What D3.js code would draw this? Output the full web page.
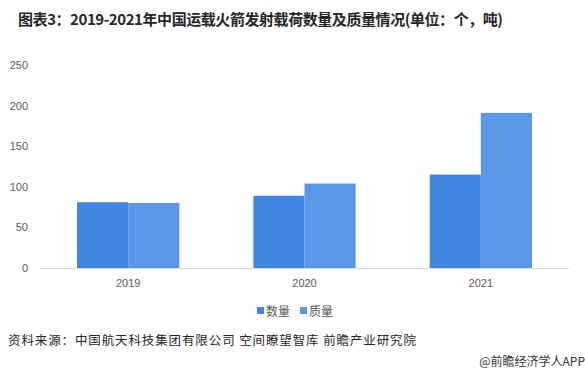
<!DOCTYPE html>
<html>
<head>
<meta charset="utf-8">
<script src="https://cdn.jsdelivr.net/npm/d3@7"></script>
<style>
  body { margin: 0; background: #fff; }
  svg { font-family: "Noto Sans CJK SC", "Noto Sans", sans-serif; }
</style>
</head>
<body>
<div id="chart"></div>
<script>
const years = ["2019", "2020", "2021"];
const seriesNames = ["数量", "质量"];
const countValues = [81, 89, 115];
const massValues = [80, 104, 191];
const yTicks = [0, 50, 100, 150, 200, 250];
const colors = ["#4285E1", "#5A97E7"];

const width = 585, height = 375;
const margin = {top: 65, right: 16, bottom: 107, left: 40};

const svg = d3.select("#chart").append("svg")
  .attr("width", width)
  .attr("height", height);

// title
svg.append("text")
  .attr("x", 18).attr("y", 25)
  .attr("font-size", 15).attr("font-weight", "bold")
  .attr("fill", "#262626")
  .attr("textLength", 485)
  .text("图表3：2019-2021年中国运载火箭发射载荷数量及质量情况(单位：个，吨)");

const x = d3.scaleBand()
  .domain(years)
  .range([margin.left, width - margin.right])
  .paddingInner(0.42)
  .paddingOuter(0.21);

const xs = d3.scaleBand()
  .domain(seriesNames)
  .range([0, x.bandwidth()]);

const y = d3.scaleLinear()
  .domain([0, 250])
  .range([height - margin.bottom, margin.top]);

const rows = years.map((yr, i) => ({year: yr, values: [countValues[i], massValues[i]]}));

// y labels
svg.append("g")
  .attr("transform", `translate(${margin.left - 12},0)`)
  .call(d3.axisLeft(y).tickValues(yTicks).tickSize(0).tickPadding(0))
  .call(g => g.select(".domain").remove())
  .selectAll("text")
  .attr("font-size", 11).attr("fill", "#595959")
  .attr("font-family", "Liberation Sans, Arial, sans-serif");

// bars
svg.append("g").selectAll("g")
  .data(rows)
  .join("g")
  .attr("transform", d => `translate(${x(d.year)},0)`)
  .selectAll("rect")
  .data(d => d.values.map((v, i) => ({key: seriesNames[i], value: v, i})))
  .join("rect")
  .attr("x", d => xs(d.key))
  .attr("y", d => y(d.value))
  .attr("width", xs.bandwidth())
  .attr("height", d => y(0) - y(d.value))
  .attr("fill", d => colors[d.i]);

// x axis
svg.append("g")
  .attr("transform", `translate(0,${y(0)})`)
  .call(d3.axisBottom(x).tickSize(0).tickPadding(11))
  .call(g => g.select(".domain").attr("stroke", "#d9d9d9").attr("d", `M${margin.left},0.5H${width - margin.right}`))
  .selectAll("text")
  .attr("font-size", 11).attr("fill", "#595959")
  .attr("font-family", "Liberation Sans, Arial, sans-serif");

// legend
const legend = svg.append("g").attr("transform", "translate(257,311)");
const li = legend.selectAll("g").data(seriesNames).join("g")
  .attr("transform", (d, i) => `translate(${i * 43},0)`);
li.append("rect").attr("x", 0).attr("y", -4).attr("width", 7).attr("height", 7)
  .attr("fill", (d, i) => colors[i]);
li.append("text").attr("x", 9).attr("y", 4.5)
  .attr("font-size", 12).attr("fill", "#595959")
  .text(d => d);

// source
svg.append("text")
  .attr("x", 8).attr("y", 345)
  .attr("font-size", 12.5).attr("fill", "#262626")
  .attr("textLength", 408)
  .text("资料来源：中国航天科技集团有限公司 空间瞭望智库 前瞻产业研究院");

svg.append("text")
  .attr("x", 585).attr("y", 366)
  .attr("text-anchor", "end")
  .attr("font-size", 12).attr("fill", "#333")
  .text("@前瞻经济学人APP");
</script>
</body>
</html>
